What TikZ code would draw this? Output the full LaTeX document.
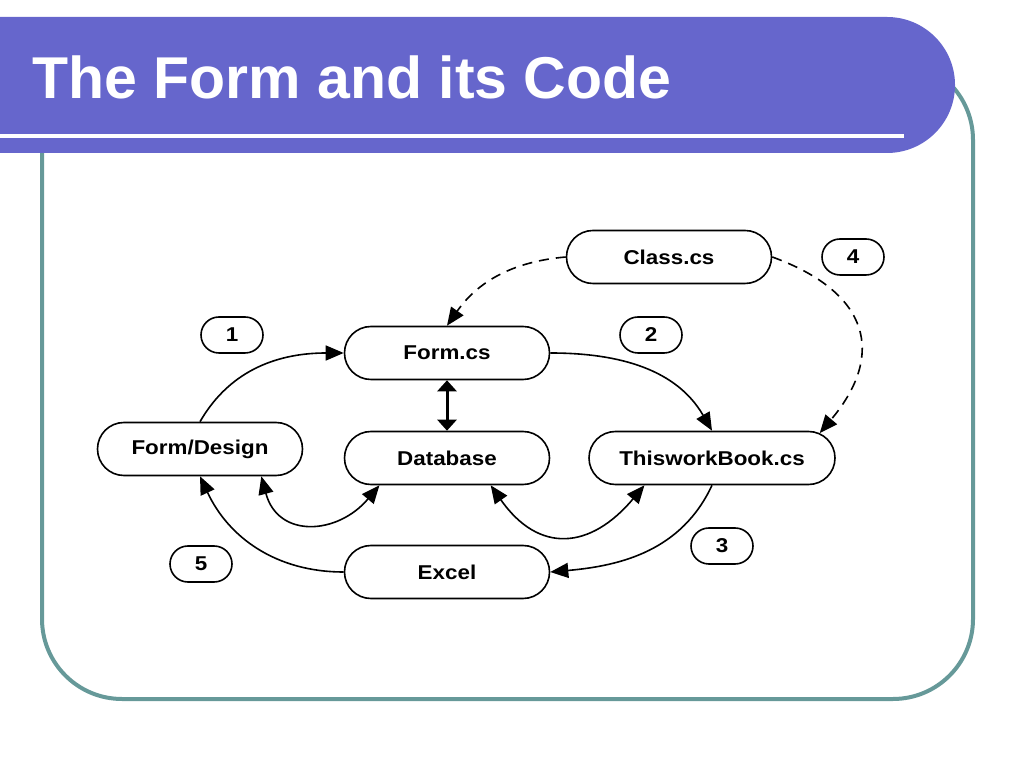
\documentclass[tikz,border=0pt]{standalone}
\usepackage{fontspec}
\setmainfont{Liberation Sans}
\newfontfamily\boxfont[FakeStretch=1.12]{Liberation Sans}
\usetikzlibrary{arrows.meta,shapes.misc}
\definecolor{barblue}{HTML}{6666CC}
\definecolor{frameteal}{HTML}{669999}
\tikzset{
    box/.style={draw, line width=1.6pt, rounded rectangle, minimum width=205pt,
        minimum height=53pt, inner sep=0pt, font=\boxfont\fontsize{20}{24}\selectfont\bfseries},
    tag/.style={box, minimum width=62pt, minimum height=36pt},
    link/.style={line width=1.6pt, -{Triangle[length=18pt,width=15pt]}},
    both/.style={line width=1.6pt, {Triangle[length=18pt,width=15pt]}-{Triangle[length=18pt,width=15pt]}},
    calls/.style={link, dash pattern=on 10pt off 7pt}
}

\begin{document}
\begin{tikzpicture}[x=1pt, y=1pt]
    \useasboundingbox (0,0) rectangle (1024,768);

    \draw [frameteal, line width=4pt, rounded corners=80pt] (42,69) rectangle (973,708);
    \fill [barblue, rounded corners=68pt] (-100,615) rectangle (955,751);
    \coordinate (L) at (0,632);
    \coordinate (R) at (904,632);
    \draw [white, line width=4pt] (L)--(R);
    \node[anchor=base west, inner sep=0pt, text=white, font=\fontsize{59}{72}\selectfont\bfseries]
        (title) at (32,669) {The Form and its Code};

    \node[box] (cls) at (669,511) {Class.cs};
    \node[box] (form) at (447,415) {Form.cs};
    \node[box] (db) at (447,310) {Database};
    \node[box] (design) at (200,319) {Form/Design};
    \node[box, minimum width=246pt] (book) at (712,310) {ThisworkBook.cs};
    \node[box] (excel) at (447,196) {Excel};

    \node[tag] (n1) at (232,433) {1};
    \node[tag] (n2) at (651,433) {2};
    \node[tag] (n3) at (722,222) {3};
    \node[tag] (n4) at (853,511) {4};
    \node[tag] (n5) at (201,204) {5};

    \draw [link] (design.north) to[out=60, in=180] (form.west);
    \draw [link] (form.east) to[out=0, in=120] (book.north);
    \draw [link] (book.south) to[out=-115, in=5] (excel.east);
    \draw [link] (excel.west) to[out=180, in=-65] (design.south);
    \draw [line width=3pt, {Triangle[length=11pt,width=19pt]}-{Triangle[length=11pt,width=19pt]}]
        (form.south)--(db.north);
    \draw [both] (design.-24) to[out=-75, in=-130, looseness=1.4] (db.-158);
    \draw [both] (db.-32) to[out=-55, in=-130, looseness=1.4] (book.-158);
    \draw [calls] (cls.west) to[out=185, in=55] (form.north);
    \draw [calls] (cls.east) to[out=-20, in=50, looseness=1.45] (book.13);
\end{tikzpicture}
\end{document}
